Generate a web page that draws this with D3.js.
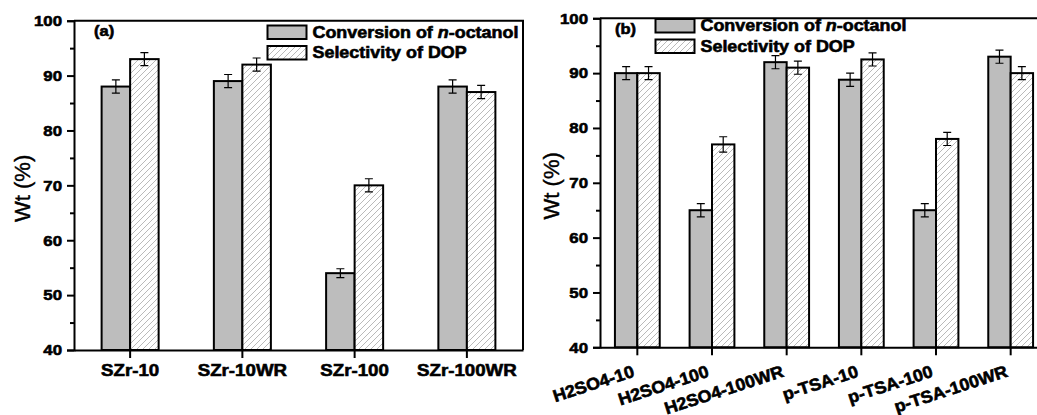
<!DOCTYPE html>
<html>
<head>
<meta charset="utf-8">
<script src="https://cdn.jsdelivr.net/npm/d3@7"></script>
<style>
  body { margin: 0; background: #fff; }
  svg { display: block; font-family: "Liberation Sans", Arial, sans-serif; }
  .heavy { stroke: #000; stroke-width: 0.6px; paint-order: stroke; }
</style>
</head>
<body>
<svg id="chart" width="1037" height="415"></svg>
<script>
// data
var catsA = ["SZr-10", "SZr-10WR", "SZr-100", "SZr-100WR"];
var convA = [88, 89, 54, 88];
var selA = [93, 92, 70, 87];
var convErrA = [1.2, 1.2, 0.8, 1.2];
var selErrA = [1.2, 1.2, 1.2, 1.2];

var catsB = ["H2SO4-10", "H2SO4-100", "H2SO4-100WR", "p-TSA-10", "p-TSA-100", "p-TSA-100WR"];
var convB = [90, 65, 92, 88.8, 65, 93];
var selB = [90, 77, 91, 92.5, 78, 90];
var convErrB = [1.2, 1.2, 1.2, 1.2, 1.2, 1.2];
var selErrB = [1.2, 1.4, 1.2, 1.2, 1.2, 1.2];

var yTicks = [40, 50, 60, 70, 80, 90, 100];
var yMinor = [45, 55, 65, 75, 85, 95];
var seriesNames = ["Conversion of ", "Selectivity of DOP"];

var svg = d3.select("#chart");
var grey = "#bdbdbd";
var font = "'Liberation Sans', Arial, sans-serif";

// hatch for selectivity bars
var defs = svg.append("defs");
var pat = defs.append("pattern")
    .attr("id", "hatch")
    .attr("patternUnits", "userSpaceOnUse")
    .attr("width", 6).attr("height", 6);
pat.append("rect").attr("width", 6).attr("height", 6).attr("fill", "#fff");
pat.append("path")
    .attr("d", "M0,6 L6,0 M-1.5,1.5 L1.5,-1.5 M4.5,7.5 L7.5,4.5")
    .attr("stroke", "#a8a8a8")
    .attr("stroke-width", 0.8);

// the source picture is a bit wider than tall, so widen the text a little
function stretch(sel, k) {
  sel.each(function() {
    var t = d3.select(this);
    var x = +t.attr("x") || 0;
    var tr = t.attr("transform") || "";
    t.attr("x", x / k).attr("transform", tr + " scale(" + k + ",1)");
  });
}

function drawPanel(p) {
  var g = svg.append("g");

  var x = d3.scaleBand().domain(p.cats).range([p.left, p.right]).padding(0);
  var y = d3.scaleLinear().domain([40, 100]).range([p.bottom, p.top]);
  var bw = x.step() * p.barFrac;

  // bars
  var groups = g.selectAll(".grp").data(p.cats).enter().append("g");
  groups.append("rect")
      .attr("x", function(d) { return x(d) + x.bandwidth() / 2 - bw; })
      .attr("y", function(d, i) { return y(p.conv[i]); })
      .attr("width", bw)
      .attr("height", function(d, i) { return y(40) - y(p.conv[i]); })
      .attr("fill", grey).attr("stroke", "#000").attr("stroke-width", 2);
  groups.append("rect")
      .attr("x", function(d) { return x(d) + x.bandwidth() / 2; })
      .attr("y", function(d, i) { return y(p.sel[i]); })
      .attr("width", bw)
      .attr("height", function(d, i) { return y(40) - y(p.sel[i]); })
      .attr("fill", "url(#hatch)").attr("stroke", "#000").attr("stroke-width", 2);

  // error bars
  function errBar(vals, errs, off) {
    p.cats.forEach(function(c, i) {
      var cx = x(c) + x.bandwidth() / 2 + off;
      var y0 = y(vals[i] - errs[i]), y1 = y(vals[i] + errs[i]);
      g.append("path")
          .attr("d", "M" + cx + "," + y0 + "V" + y1 +
                "M" + (cx - 4) + "," + y0 + "H" + (cx + 4) +
                "M" + (cx - 4) + "," + y1 + "H" + (cx + 4))
          .attr("stroke", "#000").attr("stroke-width", 1.2).attr("fill", "none");
    });
  }
  errBar(p.conv, p.convErr, -bw / 2);
  errBar(p.sel, p.selErr, bw / 2);

  // frame
  g.append("path")
      .attr("d", "M" + p.left + "," + p.top + "H" + p.right + "V" + p.bottom)
      .attr("stroke", "#000").attr("stroke-width", 2).attr("fill", "none");

  // y axis
  var yAx = g.append("g").attr("transform", "translate(" + p.left + ",0)")
      .call(d3.axisLeft(y).tickValues(yTicks).tickSize(7).tickPadding(5))
      .attr("font-family", font).attr("font-size", 15).attr("font-weight", "bold");
  yAx.selectAll(".tick line").attr("stroke-width", 2);
  yAx.select(".domain").attr("stroke-width", 2);
  yAx.selectAll("text").attr("fill", "#000").attr("class", "heavy").style("font-weight", "bold");
  stretch(yAx.selectAll("text"), 1.12);
  g.append("g").attr("transform", "translate(" + p.left + ",0)")
      .call(d3.axisLeft(y).tickValues(yMinor).tickSize(4).tickFormat(""))
      .call(function(s) { s.select(".domain").remove(); })
      .selectAll(".tick line").attr("stroke-width", 2);

  // x axis
  var xAx = g.append("g").attr("transform", "translate(0," + p.bottom + ")")
      .call(d3.axisBottom(x).tickSize(8).tickSizeOuter(0).tickFormat(""));
  xAx.selectAll(".tick line").attr("stroke-width", 2);
  xAx.select(".domain").attr("stroke-width", 2);

  var xl = g.selectAll(".xl").data(p.cats).enter().append("text")
      .attr("class", "heavy")
      .attr("font-size", 17).style("font-weight", "bold")
      .text(function(d) { return d; });
  if (p.rotate) {
    xl.attr("text-anchor", "end")
      .attr("transform", function(d) {
        return "translate(" + (x(d) + x.bandwidth() / 2 - 2) + "," + (p.bottom + 29) + ") rotate(-18)";
      });
    stretch(xl, 1.05);
  } else {
    xl.attr("text-anchor", "middle")
      .attr("x", function(d) { return x(d) + x.bandwidth() / 2; })
      .attr("y", p.bottom + 26);
    stretch(xl, 1.1);
  }

  // y title
  g.append("text")
      .attr("transform", "translate(" + p.titleX + "," + ((p.top + p.bottom) / 2 + 3) + ") rotate(-90)")
      .attr("text-anchor", "middle")
      .attr("font-size", 22)
      .style("stroke", "#000").style("stroke-width", "0.4px")
      .text("Wt (%)");

  // panel tag
  var tag = g.append("text").attr("x", p.tagX).attr("y", p.tagY)
      .attr("class", "heavy")
      .attr("font-size", 15).style("font-weight", "bold").text(p.tag);
  stretch(tag, 1.1);

  // legend
  seriesNames.forEach(function(name, i) {
    var ly = p.legY + i * 20.5;
    g.append("rect").attr("x", p.legX).attr("y", ly).attr("width", 39).attr("height", 13.5)
        .attr("fill", i === 0 ? grey : "url(#hatch)").attr("stroke", "#000").attr("stroke-width", 2);
    var t = g.append("text").attr("x", p.legX + 45).attr("y", ly + 12.5)
        .attr("class", "heavy")
        .attr("font-size", 16).style("font-weight", "bold");
    t.append("tspan").text(name);
    if (i === 0) {
      t.append("tspan").attr("font-style", "italic").text("n");
      t.append("tspan").text("-octanol");
    }
    stretch(t, 1.12);
  });
}

drawPanel({
  cats: catsA, conv: convA, sel: selA, convErr: convErrA, selErr: selErrA,
  left: 74, right: 523, top: 20.7, bottom: 350, barFrac: 0.254,
  rotate: false, titleX: 30, tag: "(a)", tagX: 94, tagY: 36,
  legX: 267.5, legY: 25.5
});

drawPanel({
  cats: catsB, conv: convB, sel: selB, convErr: convErrB, selErr: selErrB,
  left: 600, right: 1048, top: 18.3, bottom: 347.3, barFrac: 0.3,
  rotate: true, titleX: 559, tag: "(b)", tagX: 615, tagY: 34,
  legX: 655.5, legY: 19
});
</script>
</body>
</html>
